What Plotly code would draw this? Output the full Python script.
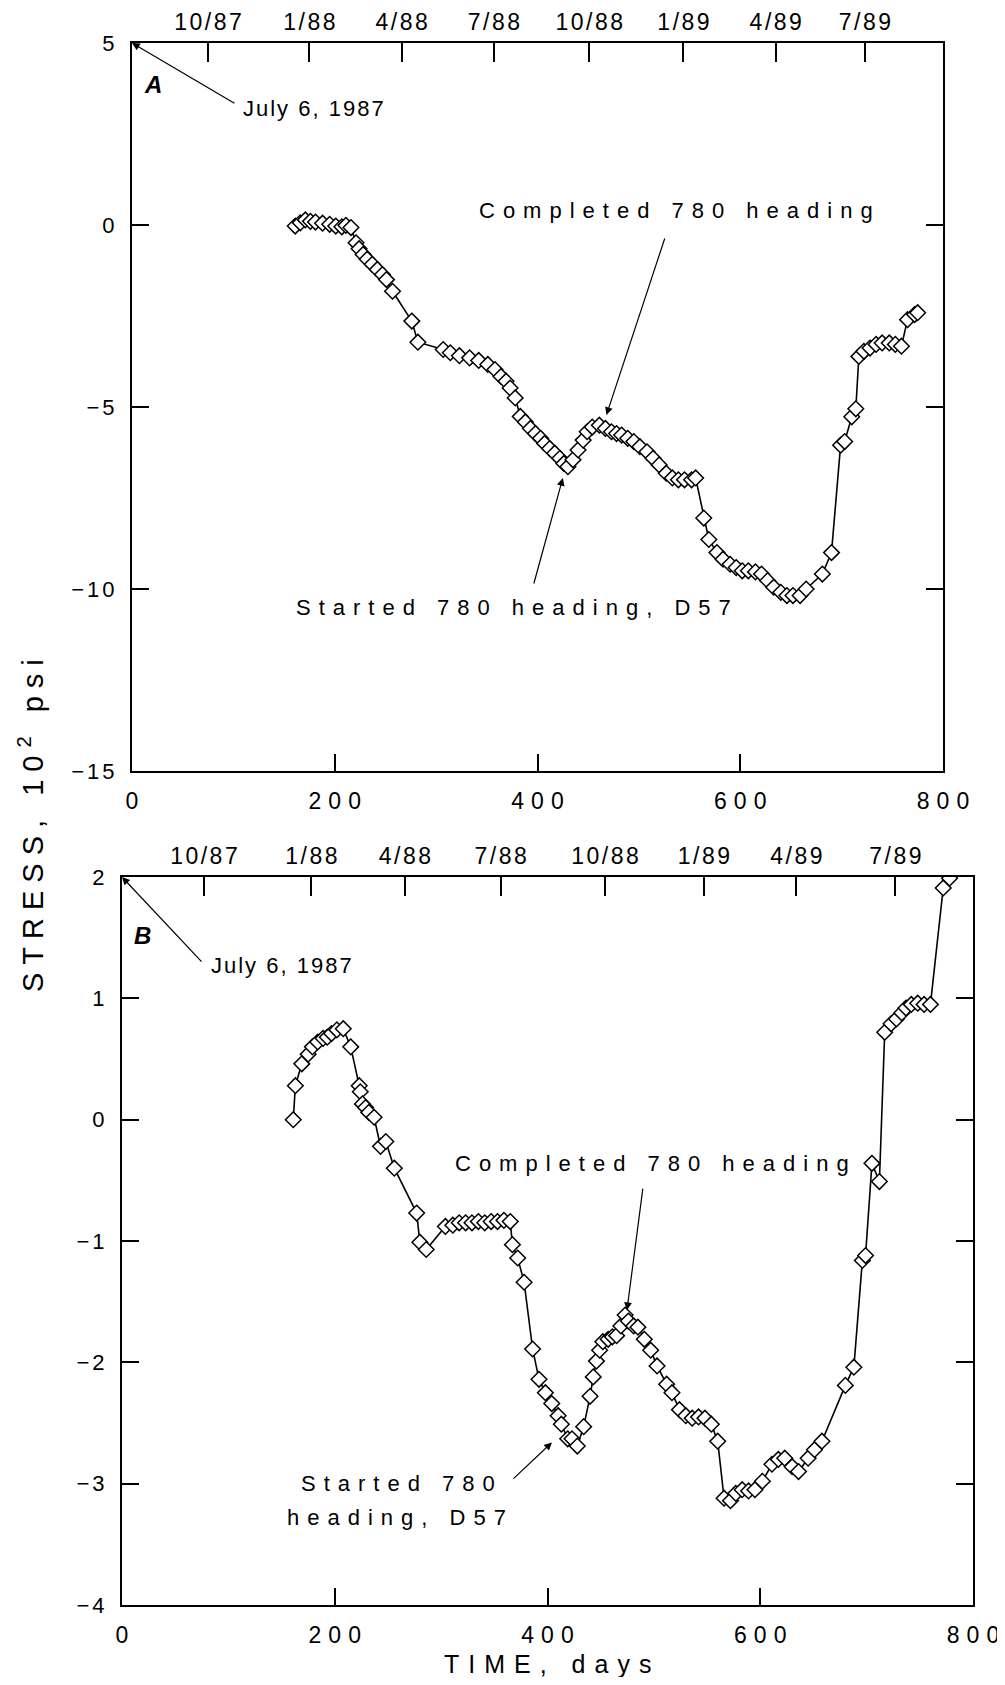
import plotly.graph_objects as go

# ---------------- data ----------------
days_a = [161, 166, 171, 176, 181, 188, 195, 201, 207, 211, 216,
          221, 224, 228, 232, 237, 242, 247, 251, 257, 276, 282,
          307, 314, 323, 333, 342, 351, 358, 364, 369, 373, 378, 383,
          388, 393, 398, 403, 407, 412, 417, 422, 426, 430,
          435, 440, 445, 449, 454, 461, 467, 473, 478, 483, 489, 495,
          501, 508, 514, 520, 527, 533, 539, 545, 552, 556,
          564, 569, 577, 583, 590, 596, 602, 608, 615, 621, 627, 633,
          640, 646, 652, 659, 665, 681, 690, 699, 703, 710, 714,
          717, 722, 728, 734, 740, 747, 753, 759, 765, 772, 775]
stress_a = [-0.03, 0.06, 0.14, 0.10, 0.08, 0.05, 0.02, -0.03, -0.05, -0.01, -0.07,
            -0.49, -0.65, -0.81, -0.94, -1.08, -1.22, -1.36, -1.50, -1.82, -2.64, -3.22,
            -3.42, -3.51, -3.59, -3.65, -3.72, -3.83, -3.97, -4.16, -4.29, -4.48, -4.75, -5.26,
            -5.41, -5.59, -5.73, -5.86, -6.00, -6.14, -6.27, -6.41, -6.55, -6.64,
            -6.45, -6.18, -5.91, -5.68, -5.55, -5.50, -5.59, -5.68, -5.73, -5.77, -5.86, -5.95,
            -6.09, -6.23, -6.41, -6.59, -6.82, -6.95, -7.00, -7.00, -7.00, -6.95,
            -8.05, -8.64, -9.00, -9.18, -9.32, -9.41, -9.50, -9.50, -9.53, -9.59, -9.77, -9.95,
            -10.09, -10.18, -10.18, -10.18, -10.00, -9.59, -9.00, -6.05, -5.95, -5.27, -5.05,
            -3.61, -3.47, -3.38, -3.28, -3.24, -3.24, -3.28, -3.33, -2.60, -2.46, -2.41]

days_b = [161, 163, 169, 175, 179, 184, 189, 193, 197, 202, 208,
          215, 223, 224, 226, 229, 232, 237, 243, 248, 256, 277, 280, 286,
          304, 311, 317, 323, 329, 335, 341, 347, 353, 359, 365, 367,
          372, 378, 386, 392, 398, 404, 410, 413, 419, 423, 428,
          434, 440, 443, 446, 449, 452, 457, 461, 465, 469, 473,
          476, 481, 485, 491, 497, 503, 512, 517, 524, 530, 536, 542, 548, 554, 560,
          566, 572, 577, 583, 589, 595, 602, 611, 617, 623, 630, 636, 645, 651, 658,
          680, 688, 696, 699, 705, 712, 717, 723, 728, 733, 737, 742, 748, 754, 760,
          772, 778]
stress_b = [0.00, 0.28, 0.46, 0.54, 0.60, 0.64, 0.67, 0.68, 0.71, 0.74, 0.75,
            0.60, 0.28, 0.23, 0.13, 0.10, 0.06, 0.02, -0.22, -0.18, -0.40, -0.77, -1.01, -1.07,
            -0.88, -0.87, -0.85, -0.85, -0.85, -0.84, -0.85, -0.84, -0.84, -0.83, -0.84, -1.03,
            -1.14, -1.34, -1.89, -2.14, -2.25, -2.34, -2.44, -2.51, -2.63, -2.63, -2.69,
            -2.53, -2.28, -2.12, -1.99, -1.90, -1.83, -1.81, -1.79, -1.78, -1.70, -1.61,
            -1.66, -1.70, -1.71, -1.81, -1.90, -2.03, -2.18, -2.25, -2.39, -2.44, -2.46, -2.45, -2.46, -2.51, -2.65,
            -3.12, -3.14, -3.08, -3.05, -3.06, -3.05, -2.98, -2.84, -2.80, -2.79, -2.86, -2.90, -2.79, -2.72, -2.65,
            -2.19, -2.04, -1.16, -1.12, -0.36, -0.51, 0.72, 0.79, 0.83, 0.88, 0.92, 0.95, 0.96, 0.95, 0.95,
            1.91, 1.99]

time_ticks = [0, 200, 400, 600, 800]
date_ticks_a = [75, 175, 266, 357, 451, 544, 635, 723]
date_ticks_b = [77, 178, 266, 356, 454, 547, 634, 727]
date_tick_labels = ["10/87", "1/88", "4/88", "7/88", "10/88", "1/89", "4/89", "7/89"]
ticks_a = [5, 0, -5, -10, -15]
ticks_b = [2, 1, 0, -1, -2, -3, -4]

FONT = "Liberation Sans, Arial, Helvetica, sans-serif"
NARROW = "Liberation Sans Narrow, Arial Narrow, Liberation Sans, sans-serif"

# the page body has an 8px margin: size the figure so it fits the window
OFF = 8
FW, FH = 1005 - OFF, 1685 - 2 * OFF


def pxx(p):
    return (p - OFF) / FW


def pxy(p):
    return 1 - (p - OFF) / FH


def sp(text, px):
    # letter-spaced text without trailing space after the last character
    return f'<span style="letter-spacing:{px}px">{text[:-1]}</span>{text[-1]}'


def neg(v):
    return str(v).replace("-", "\u2212")


fig = go.Figure()

marker = dict(symbol="diamond", size=12, color="white",
              line=dict(color="black", width=1.5))
fig.add_trace(go.Scatter(x=days_a, y=stress_a, mode="lines+markers",
                         line=dict(color="black", width=1.6), marker=marker,
                         xaxis="x", yaxis="y", showlegend=False))
fig.add_trace(go.Scatter(x=days_b, y=stress_b, mode="lines+markers",
                         line=dict(color="black", width=1.6), marker=marker,
                         xaxis="x2", yaxis="y2", showlegend=False))
# helper traces so the top date axes are drawn
fig.add_trace(go.Scatter(x=[None], y=[None], xaxis="x3", yaxis="y",
                         showlegend=False, hoverinfo="skip"))
fig.add_trace(go.Scatter(x=[None], y=[None], xaxis="x4", yaxis="y2",
                         showlegend=False, hoverinfo="skip"))

dom_xa = [pxx(132), pxx(943)]
dom_ya = [pxy(771), pxy(43)]
dom_xb = [pxx(122), pxx(973)]
dom_yb = [pxy(1605), pxy(877)]

xbase = dict(range=[0, 800], showgrid=False, zeroline=False, showline=True,
             linecolor="black", linewidth=2, mirror=True, ticks="inside",
             ticklen=17, tickwidth=1.5, tickcolor="black", automargin=False,
             tickvals=time_ticks, ticktext=[sp(str(v), 7) for v in time_ticks],
             tickfont=dict(family=FONT, size=23, color="black"),
             ticklabelstandoff=8)
ybase = dict(showgrid=False, zeroline=False, showline=True, linecolor="black",
             linewidth=2, mirror="ticks", ticks="inside", ticklen=17,
             tickwidth=1.5, tickcolor="black", automargin=False,
             tickfont=dict(family=FONT, size=22, color="black"),
             ticklabelstandoff=11)
topbase = dict(range=[0, 800], side="top", showgrid=False, zeroline=False,
               showline=False, ticks="inside", ticklen=19, tickwidth=1.5,
               tickcolor="black", automargin=False,
               ticktext=[sp(t, 2.5) for t in date_tick_labels],
               tickfont=dict(family=NARROW, size=23, color="black"),
               ticklabelstandoff=7)

fig.update_layout(
    width=FW, height=FH, autosize=False,
    margin=dict(l=0, r=0, t=0, b=0, pad=0),
    paper_bgcolor="white", plot_bgcolor="white",
    font=dict(family=FONT, color="black"),
    xaxis=dict(xbase, domain=dom_xa, anchor="y"),
    yaxis=dict(ybase, domain=dom_ya, anchor="x", range=[-15, 5],
               tickvals=ticks_a, ticktext=[sp(neg(v), 3) for v in ticks_a]),
    xaxis2=dict(xbase, domain=dom_xb, anchor="y2"),
    yaxis2=dict(ybase, domain=dom_yb, anchor="x2", range=[-4, 2],
                tickvals=ticks_b, ticktext=[sp(neg(v), 3) for v in ticks_b]),
    xaxis3=dict(topbase, overlaying="x", anchor="y", tickvals=date_ticks_a),
    xaxis4=dict(topbase, overlaying="x2", anchor="y2", tickvals=date_ticks_b),
)

ann = []
lab_font = dict(family=FONT, size=22, color="black")
july_font = dict(family=FONT, size=22, color="black")
panel_font = dict(family=FONT, size=24, color="black")


def arrow(xr, yr, x, y, ax, ay):
    ann.append(dict(xref=xr, yref=yr, axref=xr, ayref=yr, x=x, y=y, ax=ax, ay=ay,
                    text="", showarrow=True, arrowhead=2, arrowsize=1.3,
                    arrowwidth=1.2, arrowcolor="black"))


def text(xr, yr, x, y, t, font, xanchor="center"):
    ann.append(dict(xref=xr, yref=yr, x=x, y=y, text=t, showarrow=False,
                    font=font, xanchor=xanchor, yanchor="middle"))


# panel A
text("x", "y", 20.7, 3.85, "<b><i>A</i></b>", panel_font)
text("x", "y", 107.5, 3.21, sp("July 6, 1987", 2), july_font, "left")
arrow("x", "y", 0, 5, 102.5, 3.32)
text("x", "y", 536.5, 0.41, sp("Completed 780 heading", 8), lab_font)
arrow("x", "y", 468, -5.22, 526, -0.33)
text("x", "y", 376, -10.52, sp("Started 780 heading, D57", 8), lab_font)
arrow("x", "y", 425, -6.95, 396, -9.89)

# panel B
text("x2", "y2", 19.7, 1.52, "<b><i>B</i></b>", panel_font)
text("x2", "y2", 81.8, 1.27, sp("July 6, 1987", 2), july_font, "left")
arrow("x2", "y2", 0, 2, 76.1, 1.29)
text("x2", "y2", 498, -0.358, sp("Completed 780 heading", 8), lab_font)
arrow("x2", "y2", 474.7, -1.57, 489.8, -0.556)
text("x2", "y2", 259.4, -3.00, sp("Started 780", 8), lab_font)
text("x2", "y2", 258.5, -3.28, sp("heading, D57", 8), lab_font)
arrow("x2", "y2", 404.2, -2.66, 366.6, -2.97)

# axis titles
ann.append(dict(xref="paper", yref="paper", x=pxx(31), y=pxy(826),
                text=sp("STRESS, 10<sup>2</sup> psi", 8), textangle=-90,
                showarrow=False, font=dict(family=FONT, size=29, color="black"),
                xanchor="center", yanchor="middle"))
ann.append(dict(xref="paper", yref="paper", x=pxx(547), y=pxy(1664),
                text=sp("TIME, days", 9), showarrow=False,
                font=dict(family=FONT, size=25, color="black"),
                xanchor="center", yanchor="middle"))

fig.update_layout(annotations=ann)
fig.write_html("out.html")
